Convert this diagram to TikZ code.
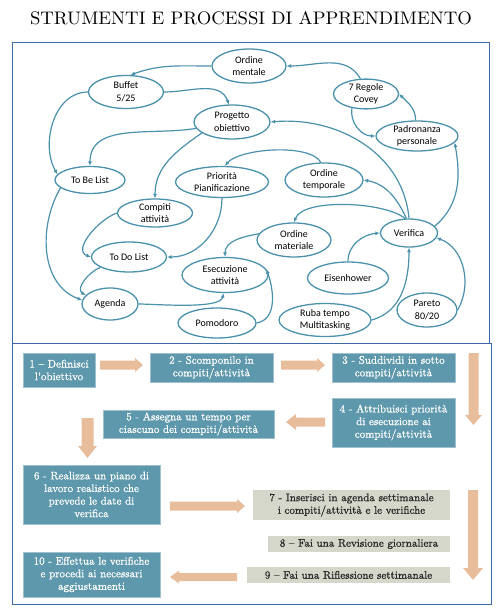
\documentclass[tikz,border=0pt]{standalone}
\usepackage{fontspec}
\usetikzlibrary{shapes.geometric,arrows.meta}
\newfontfamily\carl{Carlito}
\newfontfamily\boxfont{lmroman10-regular.otf}[FakeBold=0.8]
\definecolor{ecol}{RGB}{74,145,172}
\definecolor{framecol}{RGB}{62,104,168}
\definecolor{boxteal}{RGB}{94,152,172}
\definecolor{boxgray}{RGB}{214,215,203}
\definecolor{arrcol}{RGB}{232,189,156}
\begin{document}
\begin{tikzpicture}[x=1pt,y=1pt,
  gn/.style={ellipse, draw=ecol, line width=1.3pt, fill=white, inner sep=0pt, align=center, font=\carl\fontsize{10}{12.5}\selectfont},
  ge/.style={draw=ecol, line width=1.2pt, -{Latex[length=4.5pt,width=4pt]}},
  tb/.style={rectangle, fill=boxteal, draw=boxteal!60!white, line width=0.5pt, text=white, align=center, inner sep=0pt, font=\boxfont\fontsize{11}{12.6}\selectfont},
  gb/.style={rectangle, fill=boxgray, text=black!85, align=center, inner sep=0pt, font=\boxfont\fontsize{11}{12.6}\selectfont},
  ba/.style={fill=arrcol}]
\useasboundingbox (0,0) rectangle (503,-615);
% title
\node (title) at (251,-18.5) {\resizebox{442pt}{13pt}{STRUMENTI E PROCESSI DI APPRENDIMENTO}};
% frames
\draw[framecol, line width=0.9pt] (12,-42) rectangle (489,-343);
\draw[framecol, line width=0.9pt] (12,-343) rectangle (491,-604);
% graph nodes
\node[gn, minimum width=74pt, minimum height=34pt] (om) at (249,-66) {Ordine\\mentale};
\node[gn, minimum width=75pt, minimum height=33pt] (buf) at (126,-92) {Buffet\\5/25};
\node[gn, minimum width=65pt, minimum height=28pt] (cov) at (366,-94) {7 Regole\\Covey};
\node[gn, minimum width=76pt, minimum height=34pt] (prog) at (232,-122) {Progetto\\obiettivo};
\node[gn, minimum width=82pt, minimum height=30pt] (pad) at (417,-136) {Padronanza\\personale};
\node[gn, minimum width=70pt, minimum height=27pt] (tbl) at (90,-180) {To Be List};
\node[gn, minimum width=93pt, minimum height=31pt] (pri) at (222,-182) {Priorità\\Pianificazione};
\node[gn, minimum width=78pt, minimum height=34pt] (ot) at (324,-180) {Ordine\\temporale};
\node[gn, minimum width=75pt, minimum height=28pt] (comp) at (155,-213) {Compiti\\attività};
\node[gn, minimum width=74pt, minimum height=34pt] (omat) at (294,-240) {Ordine\\materiale};
\node[gn, minimum width=57pt, minimum height=28pt] (ver) at (409,-233) {Verifica};
\node[gn, minimum width=75pt, minimum height=30pt] (tdl) at (129,-257) {To Do List};
\node[gn, minimum width=86pt, minimum height=35pt] (ese) at (225,-275) {Esecuzione\\attività};
\node[gn, minimum width=81pt, minimum height=32pt] (eis) at (348,-278) {Eisenhower};
\node[gn, minimum width=56pt, minimum height=32pt] (age) at (110,-304) {Agenda};
\node[gn, minimum width=78pt, minimum height=30pt] (pom) at (217,-323) {Pomodoro};
\node[gn, minimum width=92pt, minimum height=33pt] (ruba) at (325,-320) {Ruba tempo\\Multitasking};
\node[gn, minimum width=60pt, minimum height=34pt] (par) at (427,-310) {Pareto\\80/20};
% graph edges
\draw[ge] (om.180) to[out=180,in=20] (buf.75);
\draw[ge] (cov.110) to[out=120,in=0] (om.east);
\draw[ge] (pad.95) to[out=90,in=-45] (cov.east);
\draw[ge] (cov.225) to[out=-100,in=180] (pad.west);
\draw[ge] (buf.east) to[out=0,in=110] (prog.100);
\draw[ge] (buf.west) to[out=180,in=120] (tbl.170);
\draw[ge] (tbl.195) to[out=240,in=160] (age.172);
\draw[ge] (prog.190) to[out=190,in=90] (tbl.north);
\draw[ge] (prog.200) to[out=215,in=90] (comp.north);
\draw[ge] (ver.north) to[out=95,in=5] (prog.east);
\draw[ge] (ver.100) to[out=115,in=-10] (ot.east);
\draw[ge] (ot.100) to[out=120,in=50,looseness=0.6] (pri.80);
\draw[ge] (pri.south) to[out=-90,in=0] (tdl.east);
\draw[ge] (ver.105) to[out=140,in=70,looseness=0.6] (omat.north);
\draw[ge] (comp.west) to[out=200,in=160] (tdl.west);
\draw[ge] (tdl.200) to[out=200,in=150] (age.160);
\draw[ge] (age.east) to[out=0,in=-100,looseness=0.5] (ese.-95);
\draw[ge] (omat.170) to[out=190,in=90] (ese.north);
\draw[ge] (pom.east) to[out=10,in=-70] (ese.8);
\draw[ge] (eis.north) to[out=90,in=185] (ver.west);
\draw[ge] (ruba.east) to[out=15,in=-90] (ver.south);
\draw[ge] (par.east) to[out=60,in=-20] (ver.-10);
\draw[ge] (ver.15) to[out=40,in=-80] (pad.-10);
% process boxes
\node[tb, minimum width=72pt, minimum height=34pt] (b1) at (59,-370) {1 – Definisci\\l’obiettivo};
\node[tb, minimum width=123pt, minimum height=29pt] (b2) at (211.5,-367.5) {2 - Scomponilo in\\compiti/attività};
\node[tb, minimum width=123pt, minimum height=29pt] (b3) at (393.5,-367.5) {3 - Suddividi in sotto\\compiti/attività};
\node[tb, minimum width=123pt, minimum height=49pt] (b4) at (393.5,-422.5) {4 - Attribuisci priorità\\di esecuzione ai\\compiti/attività};
\node[tb, minimum width=171pt, minimum height=28pt] (b5) at (188.5,-424) {5 - Assegna un tempo per\\ciascuno dei compiti/attività};
\node[tb, minimum width=137pt, minimum height=59pt] (b6) at (91.5,-494.5) {6 - Realizza un piano di\\lavoro realistico che\\prevede le date di\\verifica};
\node[gb, minimum width=197pt, minimum height=30pt] (b7) at (351.5,-505) {7 - Inserisci in agenda settimanale\\i compiti/attività e le verifiche};
\node[gb, minimum width=182pt, minimum height=16pt] (b8) at (359,-544) {8 – Fai una Revisione giornaliera};
\node[gb, minimum width=203pt, minimum height=16pt] (b9) at (348.5,-575) {9 – Fai una Riflessione settimanale};
\node[tb, minimum width=137pt, minimum height=45pt] (b10) at (91.5,-574.5) {10 - Effettua le verifiche\\e procedi ai necessari\\aggiustamenti};
% block arrows
\fill[ba] (100,-360.5) -- (135,-360.5) -- (135,-358) -- (143,-365) -- (135,-372) -- (135,-369.5) -- (100,-369.5) -- cycle;
\fill[ba] (281,-360.5) -- (317,-360.5) -- (317,-358) -- (325,-365) -- (317,-372) -- (317,-369.5) -- (281,-369.5) -- cycle;
\fill[ba] (468.5,-353) -- (478.5,-353) -- (478.5,-415) -- (482,-415) -- (473.5,-425) -- (465,-415) -- (468.5,-415) -- cycle;
\fill[ba] (325,-417.5) -- (296,-417.5) -- (296,-414) -- (286,-422) -- (296,-430) -- (296,-426.5) -- (325,-426.5) -- cycle;
\fill[ba] (81.5,-418) -- (93.5,-418) -- (93.5,-446) -- (97,-446) -- (87.5,-458) -- (78,-446) -- (81.5,-446) -- cycle;
\fill[ba] (170,-501.5) -- (237,-501.5) -- (237,-499) -- (245,-506) -- (237,-513) -- (237,-510.5) -- (170,-510.5) -- cycle;
\fill[ba] (468,-490) -- (478,-490) -- (478,-568) -- (483,-568) -- (473,-580) -- (463,-568) -- (468,-568) -- cycle;
\fill[ba] (237,-573) -- (179,-573) -- (179,-570.5) -- (170,-577) -- (179,-583.5) -- (179,-581) -- (237,-581) -- cycle;
\end{tikzpicture}
\end{document}
